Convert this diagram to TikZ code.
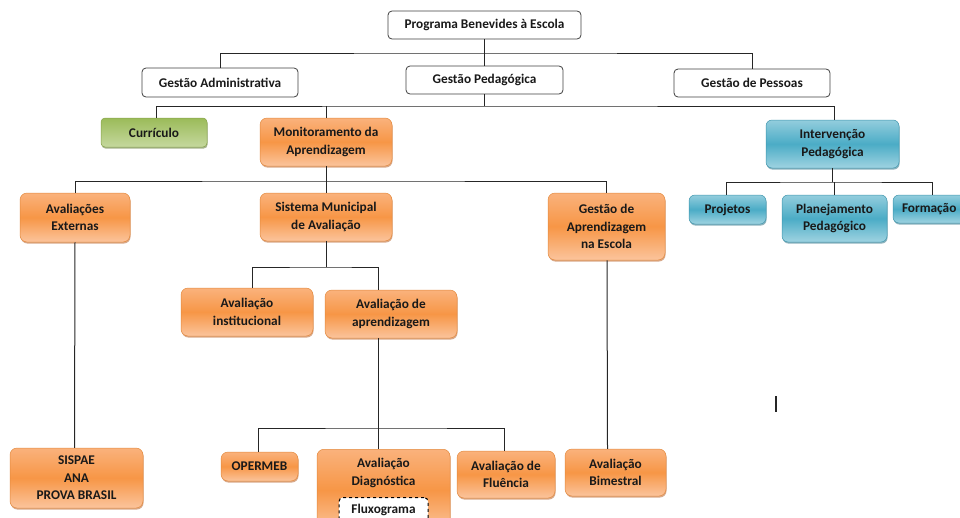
\documentclass[tikz,border=0pt]{standalone}
\usepackage{fontspec}
\setmainfont{Carlito}
\usetikzlibrary{shadows}
\definecolor{orM}{HTML}{F79646}
\definecolor{orT}{HTML}{FAB27C}
\definecolor{orB}{HTML}{FBC49C}
\definecolor{orD}{HTML}{E38A3E}
\definecolor{orS}{HTML}{B8622A}
\definecolor{blM}{HTML}{4BACC6}
\definecolor{blT}{HTML}{93CDDD}
\definecolor{blB}{HTML}{9FD3E1}
\definecolor{blD}{HTML}{3E95AD}
\definecolor{blS}{HTML}{2F7487}
\definecolor{grM}{HTML}{9BBB59}
\definecolor{grB}{HTML}{C5D89E}
\definecolor{grD}{HTML}{86A34A}
\definecolor{grS}{HTML}{5E7533}
\begin{document}
\begin{tikzpicture}[x=1pt,y=-1pt,
  txt/.style={align=center, font=\bfseries\fontsize{13.3}{17.5}\selectfont, text=black!90, inner sep=0pt},
  wbox/.style={txt, rounded corners=4pt, draw=black!75, line width=0.8pt, fill=white},
  obox/.style={txt, rounded corners=7pt, draw=orD, line width=0.5pt, top color=orT, bottom color=orB, middle color=orM,
    drop shadow={shadow xshift=0.6pt, shadow yshift=-1.6pt, fill=orS, opacity=0.55}},
  bbox/.style={txt, rounded corners=6pt, draw=blD, line width=0.5pt, top color=blT, bottom color=blB, middle color=blM,
    drop shadow={shadow xshift=0.6pt, shadow yshift=-1.6pt, fill=blS, opacity=0.55}},
  gbox/.style={txt, rounded corners=4pt, draw=grD, line width=0.5pt, top color=grM, bottom color=grB,
    drop shadow={shadow xshift=0.6pt, shadow yshift=-1.6pt, fill=grS, opacity=0.55}},
  con/.style={draw=black!85, line width=1pt}]
\path[use as bounding box, clip] (0,0) rectangle (960,517);

% level 0/1
\node[wbox, minimum width=193, minimum height=28] (prog) at (484.5,25) {Programa Benevides à Escola};
\node[wbox, minimum width=156, minimum height=29] (ga) at (220,82.5) {Gestão Administrativa};
\node[wbox, minimum width=157, minimum height=28] (gp) at (484.5,80) {Gestão Pedagógica};
\node[wbox, minimum width=156, minimum height=28] (gpe) at (752,83) {Gestão de Pessoas};

% level 2
\node[gbox, minimum width=106, minimum height=29] (cur) at (154,132.5) {Currículo};
\node[obox, minimum width=132, minimum height=48] (mon) at (326,142) {Monitoramento da\\Aprendizagem};
\node[bbox, minimum width=133, minimum height=48] (int) at (832.5,144) {Intervenção\\Pedagógica};

% level 3
\node[obox, minimum width=110, minimum height=49] (avext) at (75,217.5) {Avaliações\\Externas};
\node[obox, minimum width=132, minimum height=48] (sma) at (326,217) {Sistema Municipal\\de Avaliação};
\node[obox, minimum width=117, minimum height=67] (gae) at (606.5,226.5) {Gestão de\\Aprendizagem\\na Escola};
\node[bbox, minimum width=77, minimum height=29] (proj) at (727.5,209.5) {Projetos};
\node[bbox, minimum width=105, minimum height=47] (plan) at (834.5,218.5) {Planejamento\\Pedagógico};
\node[bbox, minimum width=84, minimum height=28, text width=84, align=left] (form) at (935,209) {\hspace{9pt}Formação};

% level 4
\node[obox, minimum width=132, minimum height=48] (ainst) at (247,312) {Avaliação\\institucional};
\node[obox, minimum width=132, minimum height=48] (aapr) at (391,314) {Avaliação de\\aprendizagem};

% level 5
\node[obox, minimum width=133, minimum height=60] (sispae) at (76.5,478) {SISPAE\\ANA\\PROVA BRASIL};
\node[obox, minimum width=77, minimum height=29] (oper) at (259.5,466.5) {OPERMEB};
\node[obox, minimum width=133, minimum height=82, anchor=north] (diag) at (383.5,449) {};
\node[txt, anchor=north] (diagt) at ([yshift=-9pt]diag.north) {Avaliação\\Diagnóstica};
\node[wbox, dashed, draw=black, line width=1pt, minimum width=89, minimum height=34, anchor=north] (flux) at (383.5,497) {};
\node[txt, anchor=north] (fluxt) at ([yshift=-7pt]flux.north) {Fluxograma};
\node[obox, minimum width=98, minimum height=47] (flu) at (506,474.5) {Avaliação de\\Fluência};
\node[obox, minimum width=101, minimum height=47] (bim) at (615.5,472.5) {Avaliação\\Bimestral};

% connectors
\coordinate (b1) at (0,53);
\draw[con] (prog.south) -- (gp.north);
\draw[con] (ga.north) |- (b1 -| prog.south) -| (gpe.north);

\coordinate (b2) at (0,106);
\draw[con] (gp.south) -- (b2 -| gp.south);
\draw[con] ([xshift=2pt]cur.north) |- (b2 -| gp.south) -| ([xshift=2pt]int.north);
\draw[con] (mon.north) -- (mon.north |- b2);

\coordinate (b3) at (0,181);
\draw[con] (avext.north) |- (b3 -| mon.south) -| (gae.north);
\draw[con] (mon.south) -- (sma.north);

\coordinate (b4) at (0,182);
\draw[con] (int.south) -- (b4 -| int.south);
\draw[con] ([xshift=-1pt]proj.north) |- (b4 -| int.south) -| ([xshift=-3pt]form.north);
\draw[con] (plan.north) -- (plan.north |- b4);

\coordinate (b5) at (0,267);
\draw[con] (sma.south) -- (b5 -| sma.south);
\draw[con] ([xshift=5pt]ainst.north) |- (b5 -| sma.south) -| ([xshift=-13pt]aapr.north);

\coordinate (b6) at (0,428);
\draw[con] ([xshift=-13pt]aapr.south) -- ([xshift=-5.5pt]diag.north);
\draw[con] ([xshift=-1.5pt]oper.north) |- (b6 -| aapr.south) -| ([xshift=-2pt]flu.north);

\draw[con] (avext.south) -- ([xshift=-2pt]sispae.north);
\draw[con] ([xshift=0.5pt]gae.south) -- ([xshift=-8pt]bim.north);

% text cursor mark
\draw[line width=1.6pt, black!85] (776,396) -- (776,412);
\end{tikzpicture}
\end{document}
